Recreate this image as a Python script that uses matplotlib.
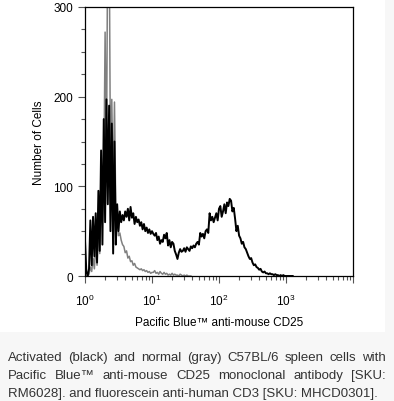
import numpy as np
import matplotlib
matplotlib.use("Agg")
import matplotlib.pyplot as plt
from matplotlib.ticker import LogLocator, MultipleLocator, FixedLocator

plt.rcParams['font.family'] = ['Liberation Sans', 'DejaVu Sans']
plt.rcParams['mathtext.default'] = 'regular'

# histogram counts per channel, channels spaced 0.02 decades apart starting at 10^0
activated = [40, 5, 0, 8, 62, 12, 66, 22, 70, 15,
             95, 28, 140, 35, 175, 60, 197, 80, 190, 50,
             170, 25, 150, 35, 80, 50, 72, 60, 68, 62,
             72, 66, 75, 62, 77, 65, 70, 58, 66, 60,
             63, 56, 60, 52, 58, 50, 54, 48, 52, 47,
             50, 47, 45, 48, 40, 44, 36, 40, 38, 46,
             42, 48, 34, 40, 32, 38, 36, 28, 24, 19,
             26, 30, 27, 28, 31, 27, 32, 30, 28, 33,
             31, 34, 32, 36, 38, 35, 48, 44, 47, 42,
             50, 52, 48, 70, 62, 66, 60, 65, 70, 62,
             75, 78, 66, 72, 80, 70, 82, 78, 86, 84,
             72, 76, 64, 50, 56, 45, 42, 36, 38, 32,
             30, 26, 22, 19, 20, 15, 12, 13, 10, 9,
             7, 8, 5, 4, 5, 3, 3, 2, 3, 2,
             2, 1, 2, 1, 1, 0, 1, 0, 1, 0,
             0, 0, 0, 0, 0, 0]
normal = [0, 0, 0, 2, 10, 5, 20, 8, 35, 12,
          60, 25, 110, 60, 100, 272, 120, 400, 400, 120,
          197, 90, 194, 70, 75, 45, 48, 40, 35, 33,
          26, 28, 20, 22, 16, 17, 12, 14, 10, 9,
          8, 7, 8, 6, 7, 5, 6, 4, 5, 3,
          4, 4, 6, 3, 4, 2, 5, 3, 2, 4,
          2, 3, 1, 2, 1, 3, 1, 2, 1, 1,
          0, 2, 1, 0, 1, 0, 1, 0, 0, 0]
decade_step = 0.02

x_ticks = [1, 10, 100, 1000, 10000]
x_ticklabels = ['$10^{0}$', '$10^{1}$', '$10^{2}$', '$10^{3}$', '']
y_ticks = [0, 100, 200, 300]

caption_lines = [
    "Activated (black) and normal (gray) C57BL/6 spleen cells with",
    "Pacific Blue\u2122 anti-mouse CD25 monoclonal antibody [SKU:",
    "RM6028]. and fluorescein anti-human CD3 [SKU: MHCD0301].",
]


def channel_values(counts):
    return 10 ** (np.arange(len(counts)) * decade_step)


W, H = 394, 402
fig = plt.figure(figsize=(W / 100, H / 100), dpi=100)
fig.patch.set_facecolor('#f7f7f7')
fig.patches.append(plt.Rectangle((0, 1 - 333 / H), 385 / W, 333 / H,
                                 transform=fig.transFigure, facecolor='white',
                                 edgecolor='none', zorder=-1))

ax = fig.add_axes([85 / W, 1 - 277 / H, (353 - 85) / W, (277 - 8) / H])
ax.plot(channel_values(normal), normal, color='#808080', lw=1.1)
ax.plot(channel_values(activated), activated, color='black', lw=1.4)

ax.set_xscale('log')
ax.set_xlim(1, 1e4)
ax.set_ylim(0, 300)
ax.xaxis.set_major_locator(FixedLocator(x_ticks))
ax.set_xticklabels(x_ticklabels)
ax.xaxis.set_minor_locator(LogLocator(base=10, subs=np.arange(2, 10), numticks=10))
ax.yaxis.set_major_locator(FixedLocator(y_ticks))
ax.yaxis.set_minor_locator(MultipleLocator(25))
ax.tick_params(which='major', direction='out', length=5, width=0.8,
               labelsize=8.5, color='#555555')
ax.tick_params(which='minor', direction='out', length=3, width=0.8, color='#555555')
ax.tick_params(axis='x', which='major', pad=7)
for s in ax.spines.values():
    s.set_linewidth(0.9)

ax.set_xlabel("Pacific Blue\u2122 anti-mouse CD25", fontsize=8.5, labelpad=6)
ax.set_ylabel("Number of Cells", fontsize=8.5, labelpad=6)

# justified caption
fig.canvas.draw()
renderer = fig.canvas.get_renderer()
left, right = 8, 386
ys = [358, 376, 394]
for k, (line, yp) in enumerate(zip(caption_lines, ys)):
    words = line.split(' ')
    if k == len(caption_lines) - 1:
        fig.text(left / W, 1 - yp / H, line, fontsize=9.5, color='#333333',
                 va='center', ha='left')
        continue
    arts = [fig.text(0, 1 - yp / H, w, fontsize=9.5, color='#333333', va='center')
            for w in words]
    widths = [a.get_window_extent(renderer).width for a in arts]
    gap = (right - left - sum(widths)) / (len(words) - 1)
    x = left
    for a, wd in zip(arts, widths):
        a.set_x(x / W)
        x += wd + gap

fig.savefig("out.png", dpi=100, facecolor=fig.get_facecolor())
